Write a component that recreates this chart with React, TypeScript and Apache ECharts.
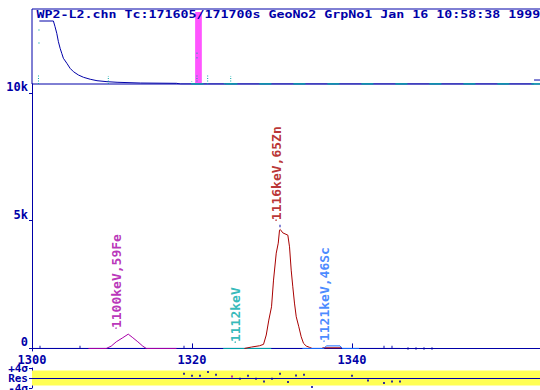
import React, { useEffect, useRef } from "react";
import * as echarts from "echarts";

const NAVY = "#0000a8";
const TEAL = "#00a8a8";
const RED = "#a80000";
const MAGENTA = "#a800a8";
const LIGHTBLUE = "#1a6cff";
const PINK = "#ff55ff";
const YELLOW = "#ffff55";
const FONT = "DejaVu Sans Mono";

const titleText = "WP2-L2.chn Tc:171605/171700s GeoNo2 GrpNo1 Jan 16 10:58:38 1999";

// ---- overview spectrum (top panel), channels 0..4096, relative height 0..100
const overviewChannels = [59, 172, 185, 199, 212, 226, 239, 252, 280, 306, 333, 373, 414, 468, 522, 602, 683, 871, 1161, 1193, 4030];
const overviewCounts = [84, 84, 76.4, 67.6, 56.4, 47.6, 40.9, 34.3, 27.6, 20.9, 16.4, 12, 8.9, 6.3, 4.4, 3.1, 2.3, 1.3, 0.9, 0, 0];
const overviewTailChannels = [4032, 4096];
const overviewTailCounts = [5.3, 5.3];
const overviewWindow = [1310, 1364];
const overviewWindowTop = 96;
const spikeChannels = [52, 613, 1283, 1325, 1411, 1545, 1596];
const spikeTops = [12, 10.7, 4, 12, 12, 3, 10.7];
const tealDotChannels = [56, 56, 1325, 1325];
const tealDotCounts = [72, 54.7, 41, 35];
const tealBaseRange = [1280, 4096];

// ---- main window, channels 1300..1363.5
const xTicks = [1300, 1320, 1340];
const yTicks = [0, 5000, 10000];
const baselineRange = [1300, 1346];
const spectrumChannels = [1301, 1306, 1319, 1331, 1344, 1345, 1347, 1348, 1349, 1350];
const spectrumCounts = [60, 60, 60, 4790, 60, 60, 0, 0, 0, 0];

const fe59Energy = [1307.06, 1309.28, 1309.9, 1310.53, 1311.35, 1312.03, 1312.6, 1313.23, 1313.85, 1314.28, 1318.06];
const fe59Counts = [0, 0, 90, 260, 420, 560, 420, 260, 90, 0, 0];

const kev1112Range = [1323.9, 1329.9];

const zn65Energy = [1326.56, 1327.44, 1328.44, 1328.94, 1329.28, 1329.6, 1329.94, 1330.19, 1330.53, 1330.78, 1330.94, 1331.03, 1331.35, 1331.98, 1332.19, 1332.4, 1332.6, 1332.81, 1333.03, 1333.35, 1333.65, 1333.94, 1334.28, 1334.69, 1335.0];
const zn65Counts = [0, 55, 105, 160, 525, 1110, 1630, 2675, 3730, 4120, 4630, 4657, 4524, 4434, 3977, 3065, 2412, 1775, 1240, 848, 457, 200, 94, 43, 0];
const zn65TailEnergy = [1336.3, 1338.65];
const zn65TailCounts = [25, 25];

const sc46Energy = [1333.8, 1336.5, 1336.8, 1338.5, 1338.8, 1340.9];
const sc46Counts = [0, 0, 100, 100, 0, 0];

const peakLabelNames = ["1100keV,59Fe", "1112keV", "1116keV,65Zn", "1121keV,46Sc"];
const peakLabelEnergy = [1310.5, 1325.4, 1330.5, 1336.5];
const peakLabelCounts = [798, 250, 5020, 290];
const peakLabelColors = [MAGENTA, TEAL, RED, LIGHTBLUE];

// ---- residuals
const resTicks = [-4, 0, 4];
const resSigmaLabels = [-4, 4];
const resCenterLabel = [0];
const resBand = [-3, 3];
const resChannels = [1319, 1320, 1321, 1322, 1323, 1325, 1326, 1327, 1328, 1329, 1330, 1331, 1332, 1333, 1334, 1335, 1340, 1342, 1344, 1345, 1346];
const resValues = [1.72, 0.92, 0.92, 2.4, 1.32, 0.64, -0.28, 0.92, -0.28, -1.36, -0.28, 1.72, -1.6, 1.04, 1.32, -3.6, 0.92, -0.96, -2, -1.36, -1.36];
const resMagentaChannel = 1325;

const zip = (xs: number[], ys: number[]) => xs.map((x, i) => [x, ys[i]]);

export default function App() {
  const ref = useRef<HTMLDivElement>(null);
  useEffect(() => {
    if (!ref.current) return;
    const chart = echarts.init(ref.current, undefined, { renderer: "svg" });

    const spikeData: any[] = [];
    spikeChannels.forEach((c, i) => {
      spikeData.push([c, 0], [c, spikeTops[i]], null);
    });

    const axisFont = { fontFamily: FONT, fontWeight: "bold" as const, fontSize: 12, color: NAVY };
    const resFont = { fontFamily: FONT, fontWeight: "bold" as const, fontSize: 11, color: NAVY };
    const resFormatter = (v: number) => (v > 0 ? "+" + v + "σ" : v < 0 ? v + "σ" : "Res");

    const option: any = {
      animation: false,
      backgroundColor: "#ffffff",
      grid: [
        { left: 32, top: 9, right: -2, height: 75, show: true, borderColor: NAVY, borderWidth: 1, backgroundColor: "transparent", outerBoundsMode: "none", containLabel: false },
        { left: 32, top: 84, right: 0, bottom: 39, outerBoundsMode: "none", containLabel: false },
        { left: 32, top: 368, right: 0, height: 20, outerBoundsMode: "none", containLabel: false },
      ],
      xAxis: [
        { gridIndex: 0, type: "value", min: 0, max: 4096, show: false },
        {
          gridIndex: 1, type: "value", min: 1300, max: 1363.5,
          axisLine: { show: true, lineStyle: { color: NAVY, width: 1 } },
          axisTick: { show: true, inside: true, length: 5, lineStyle: { color: NAVY }, customValues: xTicks },
          axisLabel: { ...axisFont, margin: 4, lineHeight: 9, customValues: xTicks, formatter: (v: number) => String(v) },
          splitLine: { show: false },
        },
        { gridIndex: 2, type: "value", min: 1300, max: 1363.5, show: false },
      ],
      yAxis: [
        { gridIndex: 0, type: "value", min: 0, max: 100, show: false },
        {
          gridIndex: 1, type: "value", min: -100, max: 10350,
          axisLine: { show: true, lineStyle: { color: NAVY, width: 1 } },
          axisTick: { show: true, length: 3, lineStyle: { color: NAVY }, customValues: yTicks },
          axisLabel: {
            ...axisFont, margin: 4, verticalAlign: "bottom", customValues: yTicks,
            formatter: (v: number) => (v >= 1000 ? v / 1000 + "k" : String(v)),
          },
          splitLine: { show: false },
        },
        {
          gridIndex: 2, type: "value", min: -4, max: 4, position: "left",
          axisLine: { show: true, lineStyle: { color: NAVY, width: 1 } },
          axisTick: { show: true, length: 3, lineStyle: { color: NAVY }, customValues: resTicks },
          axisLabel: {
            ...resFont, margin: 4, verticalAlign: "middle", lineHeight: 8, customValues: resSigmaLabels,
            showMinLabel: true, showMaxLabel: true, hideOverlap: false,
            formatter: resFormatter,
          },
          splitLine: { show: false },
        },
        {
          gridIndex: 2, type: "value", min: -4, max: 4, position: "left", offset: 0,
          axisLine: { show: false },
          axisTick: { show: false },
          axisLabel: {
            ...resFont, margin: 4, verticalAlign: "middle", lineHeight: 8, customValues: resCenterLabel,
            formatter: resFormatter,
          },
          splitLine: { show: false },
        },
      ],
      graphic: [
        {
          type: "text", x: 36.5, y: 15, scaleX: 1.33, z: 100,
          style: { text: titleText, fontFamily: FONT, fontWeight: "bold", fontSize: 10, fill: NAVY, verticalAlign: "middle" },
        },
      ],
      series: [
        // overview
        {
          type: "line", xAxisIndex: 0, yAxisIndex: 0, silent: true, symbol: "none",
          data: zip(overviewChannels, overviewCounts),
          lineStyle: { color: NAVY, width: 1 },
          markArea: {
            silent: true, itemStyle: { color: PINK, opacity: 1 },
            data: [[{ coord: [overviewWindow[0], 0] }, { coord: [overviewWindow[1], overviewWindowTop] }]],
          },
          z: 3,
        },
        {
          type: "line", xAxisIndex: 0, yAxisIndex: 0, silent: true, symbol: "none",
          data: zip(overviewTailChannels, overviewTailCounts),
          lineStyle: { color: NAVY, width: 1 }, z: 3,
        },
        {
          type: "line", xAxisIndex: 0, yAxisIndex: 0, silent: true, symbol: "none",
          data: [[tealBaseRange[0], 0], [tealBaseRange[1], 0]],
          lineStyle: { color: TEAL, width: 1.5, type: [12, 22] }, z: 4,
        },
        {
          type: "line", xAxisIndex: 0, yAxisIndex: 0, silent: true, symbol: "none", connectNulls: false,
          data: spikeData,
          lineStyle: { color: TEAL, width: 1, type: [1, 1.5] }, z: 5,
        },
        {
          type: "scatter", xAxisIndex: 0, yAxisIndex: 0, silent: true, symbol: "rect", symbolSize: [1, 1.5],
          data: zip(tealDotChannels, tealDotCounts),
          itemStyle: { color: TEAL }, z: 5,
        },
        // main window
        {
          type: "line", xAxisIndex: 1, yAxisIndex: 1, silent: true, symbol: "none",
          data: [[baselineRange[0], 0], [baselineRange[1], 0]],
          lineStyle: { color: NAVY, width: 1 }, z: 2,
        },
        {
          type: "scatter", xAxisIndex: 1, yAxisIndex: 1, silent: true, symbol: "rect", symbolSize: [1.2, 2.5],
          data: zip(spectrumChannels, spectrumCounts),
          itemStyle: { color: NAVY }, z: 6,
        },
        {
          type: "line", xAxisIndex: 1, yAxisIndex: 1, silent: true, symbol: "none",
          data: zip(fe59Energy, fe59Counts),
          lineStyle: { color: MAGENTA, width: 1 }, z: 3,
        },
        {
          type: "line", xAxisIndex: 1, yAxisIndex: 1, silent: true, symbol: "none",
          data: [[kev1112Range[0], 0], [kev1112Range[1], 0]],
          lineStyle: { color: TEAL, width: 1 }, z: 3,
        },
        {
          type: "line", xAxisIndex: 1, yAxisIndex: 1, silent: true, symbol: "none",
          data: zip(zn65Energy, zn65Counts),
          lineStyle: { color: RED, width: 1 }, z: 4,
        },
        {
          type: "line", xAxisIndex: 1, yAxisIndex: 1, silent: true, symbol: "none",
          data: zip(zn65TailEnergy, zn65TailCounts),
          lineStyle: { color: RED, width: 1 }, z: 4,
        },
        {
          type: "line", xAxisIndex: 1, yAxisIndex: 1, silent: true, symbol: "none",
          data: zip(sc46Energy, sc46Counts),
          lineStyle: { color: LIGHTBLUE, width: 1 }, z: 5,
        },
        {
          type: "scatter", xAxisIndex: 1, yAxisIndex: 1, silent: true, symbolSize: 1.5,
          data: peakLabelNames.map((n, i) => ({
            name: n, value: [peakLabelEnergy[i], peakLabelCounts[i]],
            itemStyle: { color: peakLabelColors[i] },
            label: { color: peakLabelColors[i] },
          })),
          label: {
            show: true, position: "inside", rotate: 90, align: "left", verticalAlign: "middle",
            formatter: (p: any) => p.name, fontFamily: FONT, fontWeight: "bold", fontSize: 13,
          },
          z: 7,
        },
        // residuals
        {
          type: "scatter", xAxisIndex: 2, yAxisIndex: 2, silent: true, symbol: "rect", symbolSize: 2,
          data: resChannels.map((c, i) => ({
            value: [c, resValues[i]],
            itemStyle: { color: c === resMagentaChannel ? MAGENTA : NAVY },
          })),
          markArea: {
            silent: true, itemStyle: { color: YELLOW, opacity: 1 },
            data: [[{ yAxis: resBand[0] }, { yAxis: resBand[1] }]],
          },
          markLine: {
            silent: true, symbol: "none", label: { show: false },
            lineStyle: { color: NAVY, width: 1, type: "solid" },
            data: [{ yAxis: 0 }],
          },
          z: 3,
        },
      ],
    };
    chart.setOption(option);
    return () => chart.dispose();
  }, []);
  return <div ref={ref} style={{ position: "absolute", left: 0, top: 0, width: 540, height: 390 }} />;
}
